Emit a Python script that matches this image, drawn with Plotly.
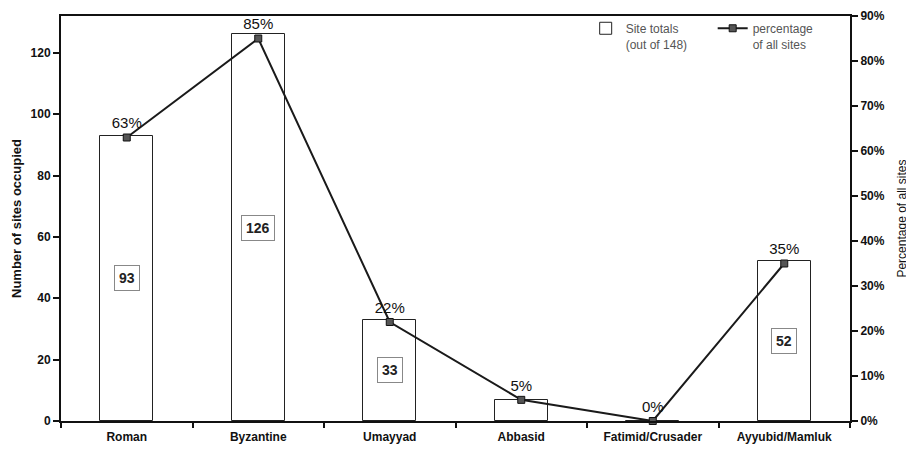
import plotly.graph_objects as go

periods = ["Roman", "Byzantine", "Umayyad", "Abbasid", "Fatimid/Crusader", "Ayyubid/Mamluk"]
site_totals = [93, 126, 33, 7, 0, 52]
pct_labels = ["63%", "85%", "22%", "5%", "0%", "35%"]
pct_values = [0.63, 0.85, 0.22, 0.047, 0.0, 0.35]
boxed_counts = ["93", "126", "33", "", "", "52"]

FONT = "Liberation Sans, Arial, sans-serif"

fig = go.Figure()
fig.add_trace(go.Bar(
    x=periods, y=site_totals, name="Site totals<br>(out of 148)",
    marker=dict(color="white", line=dict(color="#222", width=1)),
    width=0.4, yaxis="y",
))
fig.add_trace(go.Scatter(
    x=periods, y=pct_values, name="percentage<br>of all sites",
    mode="lines+markers+text", text=pct_labels, textposition="top center",
    textfont=dict(family=FONT, size=15, color="#111"),
    line=dict(color="#1a1a1a", width=2),
    marker=dict(symbol="square", size=7, color="#555", line=dict(color="#111", width=1)),
    yaxis="y2", cliponaxis=False,
))

for p, v, t in zip(periods, site_totals, boxed_counts):
    if t:
        fig.add_annotation(x=p, y=v / 2, xref="x", yref="y", text="<b>%s</b>" % t,
                           showarrow=False, font=dict(family=FONT, size=14, color="#222"),
                           bordercolor="#888", borderwidth=1, borderpad=4, bgcolor="white")

# figure is offset by the page's 8px body margin, so margins are compensated
fig.update_layout(
    width=914, height=454,
    margin=dict(l=53, r=72, t=8, b=41, autoexpand=False),
    paper_bgcolor="white", plot_bgcolor="white",
    showlegend=True, bargap=0,
    legend=dict(orientation="h", x=0.665, y=1.005, xanchor="left", yanchor="top",
                font=dict(family=FONT, size=12, color="#555"), bgcolor="rgba(0,0,0,0)",
                itemwidth=30, entrywidth=82, entrywidthmode="pixels",
                valign="top", tracegroupgap=0),
    xaxis=dict(showline=True, linecolor="#111", linewidth=2, mirror=True, automargin=False,
               ticks="outside", ticklen=5, tickcolor="#111", tickwidth=2, tickson="boundaries",
               ticklabelstandoff=4,
               tickfont=dict(family=FONT, size=12, color="#111", weight="bold"),
               showgrid=False, zeroline=False),
    yaxis=dict(range=[0, 132], tickvals=[0, 20, 40, 60, 80, 100, 120], automargin=False,
               showline=True, linecolor="#111", linewidth=2, ticklabeloverflow="allow",
               ticks="outside", ticklen=6, tickcolor="#111", tickwidth=2,
               tickfont=dict(family=FONT, size=12, color="#111", weight="bold"),
               showgrid=False, zeroline=False,
               title=dict(text="Number of sites occupied", standoff=6,
                          font=dict(family=FONT, size=13, color="#111", weight="bold"))),
    yaxis2=dict(range=[0, 0.9], dtick=0.1, tickformat=".0%", overlaying="y", side="right",
                automargin=False, ticklabeloverflow="allow",
                showline=True, linecolor="#111", linewidth=2,
                ticks="outside", ticklen=6, tickcolor="#111", tickwidth=2,
                tickfont=dict(family=FONT, size=12, color="#111", weight="bold"),
                showgrid=False, zeroline=False,
                title=dict(text="Percentage of all sites", standoff=14,
                           font=dict(family=FONT, size=12, color="#111"))),
)

fig.write_html("out.html")
